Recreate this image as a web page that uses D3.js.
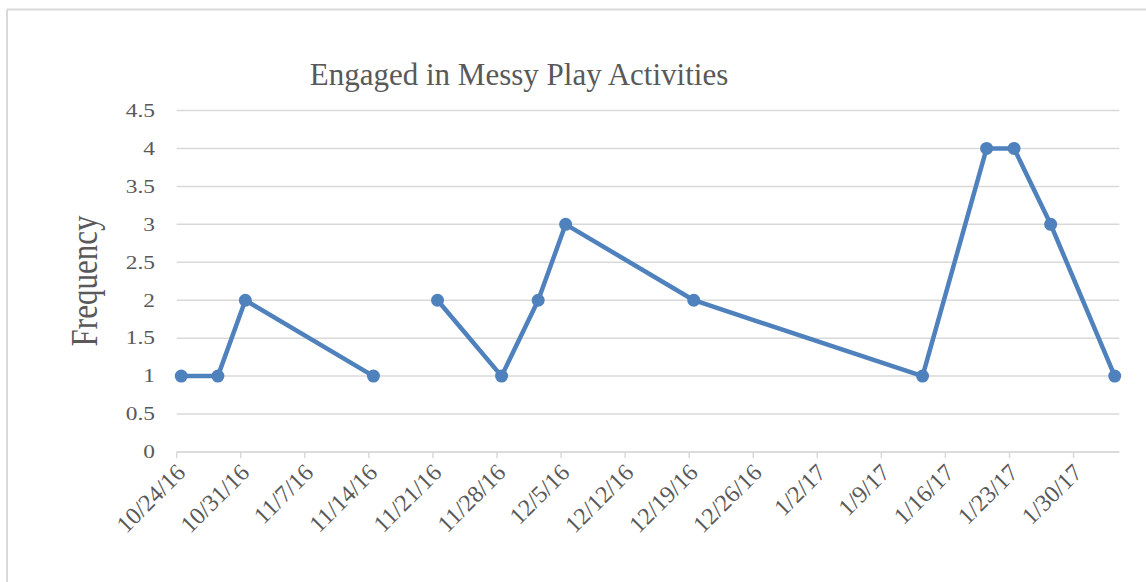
<!DOCTYPE html>
<meta charset="utf-8">
<script src="https://d3js.org/d3.v7.min.js"></script>
<style>
  body { margin: 0; background: #fff; }
  text { font-family: "Liberation Serif", "Times New Roman", serif; fill: #595959; }
</style>
<body>
<svg id="chart" width="1146" height="582"></svg>
<script>
  // data (null = gap in the series)
  var dates = ["2016-10-24", "2016-10-28", "2016-10-31", "2016-11-14", "2016-11-18",
               "2016-11-21", "2016-11-28", "2016-12-02", "2016-12-05", "2016-12-19",
               "2017-01-13", "2017-01-20", "2017-01-23", "2017-01-27", "2017-02-03"];
  var values = [1, 1, 2, 1, null, 2, 1, 2, 3, 2, 1, 4, 4, 3, 1];
  var yTicks = [0, 0.5, 1, 1.5, 2, 2.5, 3, 3.5, 4, 4.5];

  var parse = d3.timeParse("%Y-%m-%d");
  var data = dates.map(function(d, i) { return { date: parse(d), value: values[i] }; });

  var svg = d3.select("#chart");
  var plotLeft = 176.7, plotRight = 1119.3, plotTop = 110.5, plotBottom = 452;

  // frame (only top and left edges show)
  svg.append("line").attr("x1", 7).attr("x2", 1146).attr("y1", 9.5).attr("y2", 9.5)
    .attr("stroke", "#d9d9d9").attr("stroke-width", 2);
  svg.append("line").attr("x1", 7).attr("x2", 7).attr("y1", 9.5).attr("y2", 582)
    .attr("stroke", "#d9d9d9").attr("stroke-width", 2);

  // date axis: points sit in the middle of their day
  var start = parse("2016-10-24");
  var end = d3.timeDay.offset(parse("2017-02-03"), 1);
  var x = d3.scaleTime().domain([start, end]).range([plotLeft, plotRight]);
  var y = d3.scaleLinear().domain([0, 4.5]).range([plotBottom, plotTop]);
  var px = function(d) { return x(d3.timeHour.offset(d.date, 12)); };

  // gridlines
  svg.append("g").selectAll("line").data(yTicks).enter().append("line")
    .attr("x1", plotLeft).attr("x2", plotRight)
    .attr("y1", function(d) { return y(d); }).attr("y2", function(d) { return y(d); })
    .attr("stroke", "#d9d9d9").attr("stroke-width", 1.5);

  // y labels (text in the picture is a bit wide, so stretch it)
  svg.append("g").selectAll("text").data(yTicks).enter().append("text")
    .attr("transform", function(d) { return "translate(155," + y(d) + ") scale(1.3,1)"; })
    .attr("dy", "0.35em").attr("text-anchor", "end")
    .style("font-size", "18px")
    .text(function(d) { return d; });

  // weekly ticks
  var weeks = d3.range(15).map(function(i) { return d3.timeDay.offset(start, i * 7); });
  var fmt = function(d) { return (d.getMonth() + 1) + "/" + d.getDate() + "/" + String(d.getFullYear()).slice(2); };
  var xg = svg.append("g");
  xg.append("line").attr("x1", plotLeft).attr("x2", plotRight).attr("y1", plotBottom).attr("y2", plotBottom)
    .attr("stroke", "#d9d9d9").attr("stroke-width", 1.5);
  xg.selectAll(".tick").data(weeks).enter().append("line")
    .attr("x1", function(d) { return x(d); }).attr("x2", function(d) { return x(d); })
    .attr("y1", plotBottom).attr("y2", plotBottom + 6)
    .attr("stroke", "#d9d9d9").attr("stroke-width", 1.5);
  xg.selectAll(".lbl").data(weeks).enter().append("text")
    .attr("transform", function(d) { return "translate(" + (x(d) + 4) + "," + (plotBottom + 16) + ") rotate(-45)"; })
    .attr("text-anchor", "end").attr("dy", "0.35em")
    .style("font-size", "24px")
    .text(fmt);

  // line + markers
  var line = d3.line()
    .defined(function(d) { return d.value !== null; })
    .x(px).y(function(d) { return y(d.value); });
  svg.append("path").datum(data).attr("d", line)
    .attr("fill", "none").attr("stroke", "#4f81bd").attr("stroke-width", 4.5)
    .attr("stroke-linejoin", "round");
  svg.append("g").selectAll("circle").data(data.filter(function(d) { return d.value !== null; }))
    .enter().append("circle")
    .attr("cx", px).attr("cy", function(d) { return y(d.value); })
    .attr("r", 6.5).attr("fill", "#4f81bd");

  // titles
  svg.append("text").attr("x", 519).attr("y", 85).attr("text-anchor", "middle")
    .style("font-size", "31px").text("Engaged in Messy Play Activities");
  svg.append("text").attr("transform", "translate(97,281) scale(1.2,1) rotate(-90)")
    .attr("text-anchor", "middle").style("font-size", "31px").text("Frequency");
</script>
</body>
